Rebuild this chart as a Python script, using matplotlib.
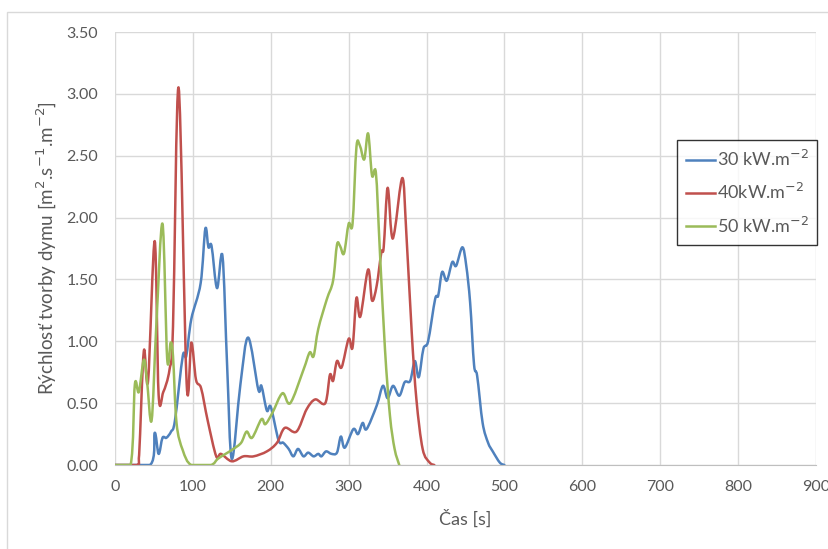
import numpy as np
import matplotlib
matplotlib.use("Agg")
import matplotlib.pyplot as plt
from matplotlib.patches import Rectangle, PathPatch
from matplotlib.path import Path
from matplotlib.lines import Line2D
from matplotlib.ticker import FormatStrFormatter

plt.rcParams['font.family'] = ['Lato', 'DejaVu Sans']

# 30 kW.m-2
t30 = [0, 45, 51, 56, 61, 66, 72, 77, 87, 91.5, 98, 110, 116, 120, 124, 131, 138, 144, 150,
       161, 171, 184, 188, 195, 200, 210, 216, 223, 229, 235, 242, 248, 255, 261, 265, 271,
       278, 285, 290, 295, 306, 312, 318, 323, 336, 344, 350, 357, 365, 372, 379, 385, 390,
       396, 402, 411, 415, 420, 426, 433, 438, 446, 451, 456, 461, 465, 472, 479, 485, 494,
       500]
v30 = [0, 0, 0.26, 0.09, 0.22, 0.22, 0.27, 0.36, 0.88, 0.88, 1.18, 1.47, 1.91, 1.76, 1.77,
       1.43, 1.69, 0.80, 0.05, 0.65, 1.03, 0.61, 0.64, 0.44, 0.47, 0.20, 0.18, 0.13, 0.07,
       0.13, 0.07, 0.10, 0.07, 0.09, 0.07, 0.11, 0.09, 0.10, 0.23, 0.14, 0.29, 0.25, 0.34,
       0.29, 0.48, 0.64, 0.54, 0.64, 0.56, 0.67, 0.68, 0.84, 0.71, 0.94, 1.00, 1.34, 1.37,
       1.56, 1.49, 1.64, 1.61, 1.76, 1.61, 1.31, 0.81, 0.72, 0.34, 0.18, 0.11, 0.02, 0]

# 40 kW.m-2
t40 = [0, 28, 31, 37, 42.5, 51, 56, 62, 70, 74.5, 81.7, 92, 98, 104, 110.6, 119, 130, 136,
       150, 165, 178, 195, 208, 218, 233, 246, 257, 270, 276, 280, 285, 291, 300, 305, 310,
       315, 325, 330, 336, 342, 345, 350, 355, 359, 369, 374, 381, 387, 395, 404, 410]
v40 = [0, 0, 0.08, 0.92, 0.68, 1.81, 0.57, 0.59, 0.77, 1.12, 3.05, 0.66, 0.99, 0.69, 0.62,
       0.36, 0.07, 0.09, 0.03, 0.07, 0.07, 0.11, 0.18, 0.30, 0.27, 0.45, 0.53, 0.50, 0.73,
       0.68, 0.84, 0.79, 1.02, 0.95, 1.35, 1.20, 1.58, 1.33, 1.45, 1.72, 1.76, 2.24, 1.87,
       1.89, 2.32, 1.88, 1.07, 0.53, 0.13, 0.02, 0]

# 50 kW.m-2
t50 = [0, 20, 25.5, 30.6, 37, 41, 47, 53, 61, 67, 71.5, 74.5, 79, 87, 98, 123, 132, 142,
       152, 162, 169, 176, 188, 193, 202, 215, 225, 242, 250, 255, 261, 272, 280, 285, 289,
       294, 300, 305, 310, 314.5, 320, 325, 330, 335, 340, 346.6, 353, 359, 365]
v50 = [0, 0, 0.65, 0.59, 0.85, 0.69, 0.36, 1.12, 1.95, 0.86, 0.99, 0.88, 0.34, 0.12, 0, 0,
       0.05, 0.09, 0.13, 0.18, 0.27, 0.22, 0.37, 0.33, 0.42, 0.58, 0.50, 0.77, 0.91, 0.88,
       1.10, 1.34, 1.49, 1.78, 1.77, 1.71, 1.95, 1.95, 2.57, 2.58, 2.47, 2.68, 2.34, 2.36,
       1.74, 0.94, 0.40, 0.13, 0]

labels = ["30 kW.m$^{-2}$", "40kW.m$^{-2}$", "50 kW.m$^{-2}$"]
colors = ["#4F81BD", "#C0504D", "#9BBB59"]


def smooth_path(x, y):
    # Excel-like smoothed line: bezier segments through the data points
    x = np.asarray(x, float); y = np.asarray(y, float)
    verts = [(x[0], y[0])]
    codes = [Path.MOVETO]
    n = len(x)
    for i in range(n - 1):
        i0 = max(i - 1, 0); i3 = min(i + 2, n - 1)
        c1 = (x[i] + (x[i+1] - x[i0]) / 6, max(y[i] + (y[i+1] - y[i0]) / 6, 0))
        c2 = (x[i+1] - (x[i3] - x[i]) / 6, max(y[i+1] - (y[i3] - y[i]) / 6, 0))
        verts += [c1, c2, (x[i+1], y[i+1])]
        codes += [Path.CURVE4] * 3
    return Path(verts, codes)


fig = plt.figure(figsize=(8.29, 5.49), dpi=100)
fig.patches.append(Rectangle((0.009, -0.01), 1.0, 0.988, transform=fig.transFigure,
                             fill=False, edgecolor="#d9d9d9", lw=1))
ax = fig.add_axes([0.1387, 0.153, 0.8456, 0.7887])

handles = []
for t, v, lab, c in zip([t30, t40, t50], [v30, v40, v50], labels, colors):
    ax.add_patch(PathPatch(smooth_path(t, v), fill=False, edgecolor=c, lw=1.8,
                           joinstyle="round", capstyle="round"))
    handles.append(Line2D([], [], color=c, lw=1.8, label=lab))

ax.set_xlim(0, 900)
ax.set_ylim(0, 3.5)
ax.set_xticks(np.arange(0, 901, 100))
ax.set_yticks(np.arange(0, 3.51, 0.5))
ax.yaxis.set_major_formatter(FormatStrFormatter("%.2f"))
ax.grid(True, color="#d9d9d9", lw=1)
ax.set_axisbelow(True)
for s in ["top", "right", "left"]:
    ax.spines[s].set_visible(False)
ax.spines["bottom"].set_color("#bfbfbf")
ax.tick_params(axis="x", length=0, labelsize=11.5, colors="#595959", pad=11)
ax.tick_params(axis="y", length=0, labelsize=11.5, colors="#595959", pad=12)

ax.set_xlabel("Čas [s]", fontsize=13, color="#595959", labelpad=11)
ax.set_ylabel("Rýchlosť tvorby dymu [m$^{2}$.s$^{-1}$.m$^{-2}$]", fontsize=13.5,
              color="#595959", labelpad=5)

leg = ax.legend(handles=handles, loc="upper right", bbox_to_anchor=(1.002, 0.75),
                fontsize=13, frameon=True, fancybox=False, handlelength=1.6,
                handletextpad=0.1, borderpad=0.5, labelspacing=0.72,
                labelcolor="#595959", borderaxespad=0)
leg.get_frame().set_edgecolor("black")
leg.get_frame().set_linewidth(1.0)

fig.savefig("out.png", dpi=100)
